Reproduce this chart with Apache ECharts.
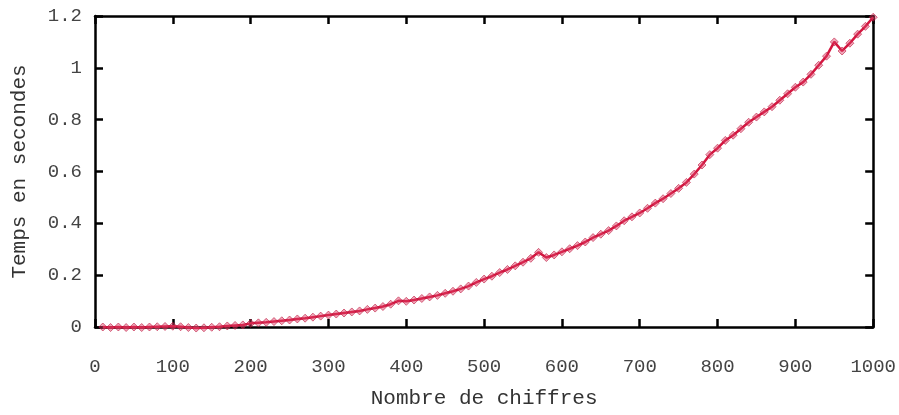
<!DOCTYPE html>
<html>
<head>
<meta charset="utf-8">
<script src="https://cdn.jsdelivr.net/npm/echarts@6/dist/echarts.min.js"></script>
<style>
html,body{margin:0;padding:0;background:#fff;}
#chart{width:899px;height:415px;}
</style>
</head>
<body>
<div id="chart"></div>
<script>
// Number of digits (x)
const digits = [10,20,30,40,50,60,70,80,90,100,110,120,130,140,150,160,170,180,190,200,
  210,220,230,240,250,260,270,280,290,300,310,320,330,340,350,360,370,380,390,400,
  410,420,430,440,450,460,470,480,490,500,510,520,530,540,550,560,570,580,590,600,
  610,620,630,640,650,660,670,680,690,700,710,720,730,740,750,760,770,780,790,800,
  810,820,830,840,850,860,870,880,890,900,910,920,930,940,950,960,970,980,990,1000];
// Time in seconds (y)
const seconds = [0.000,-0.002,0.000,-0.002,0.000,-0.002,0.000,0.001,0.002,0.003,
  0.001,-0.002,-0.004,-0.003,-0.001,0.001,0.004,0.006,0.008,0.014,
  0.016,0.018,0.021,0.024,0.027,0.031,0.034,0.038,0.042,0.046,
  0.050,0.054,0.058,0.062,0.068,0.073,0.079,0.088,0.101,0.099,
  0.104,0.110,0.116,0.122,0.130,0.138,0.147,0.158,0.172,0.185,
  0.196,0.210,0.222,0.236,0.250,0.265,0.288,0.268,0.278,0.290,
  0.302,0.314,0.328,0.345,0.358,0.372,0.390,0.410,0.425,0.440,
  0.458,0.478,0.495,0.515,0.535,0.558,0.590,0.625,0.665,0.690,
  0.720,0.740,0.765,0.790,0.810,0.830,0.850,0.875,0.900,0.925,
  0.945,0.975,1.010,1.045,1.100,1.065,1.095,1.130,1.160,1.195];
const xTicks = [0,100,200,300,400,500,600,700,800,900,1000];
const yTicks = [0,0.2,0.4,0.6,0.8,1,1.2];

const points = digits.map((d,i)=>[d, seconds[i]]);
const font = '"Liberation Mono","DejaVu Sans Mono",monospace';
const axisLine = {show:true, onZero:false, lineStyle:{color:'#000', width:2.5}};
const tickStyle = {show:true, inside:true, length:8, lineStyle:{color:'#000', width:2.5}};

const chart = echarts.init(document.getElementById('chart'));
chart.setOption({
  animation:false,
  backgroundColor:'#fff',
  grid:{left:95, right:24, top:16, bottom:88},
  xAxis:[{
    type:'value', min:xTicks[0], max:xTicks[xTicks.length-1], interval:100,
    position:'bottom',
    name:'Nombre de chiffres', nameLocation:'middle', nameGap:61,
    nameTextStyle:{fontFamily:font, fontSize:21, color:'#333'},
    axisLine:axisLine, axisTick:tickStyle,
    axisLabel:{fontFamily:font, fontSize:19, color:'#444', margin:30,
      formatter:v=>String(v)},
    splitLine:{show:false}
  },{
    type:'value', min:xTicks[0], max:xTicks[xTicks.length-1], interval:100,
    position:'top',
    axisLine:axisLine, axisTick:tickStyle, axisLabel:{show:false}, splitLine:{show:false}
  }],
  yAxis:[{
    type:'value', min:yTicks[0], max:yTicks[yTicks.length-1], interval:0.2,
    position:'left',
    name:'Temps en secondes', nameLocation:'middle', nameGap:65, nameRotate:90,
    nameTextStyle:{fontFamily:font, fontSize:21, color:'#333'},
    axisLine:axisLine, axisTick:tickStyle,
    axisLabel:{fontFamily:font, fontSize:19, color:'#444', margin:13},
    splitLine:{show:false}
  },{
    type:'value', min:yTicks[0], max:yTicks[yTicks.length-1], interval:0.2,
    position:'right',
    axisLine:axisLine, axisTick:tickStyle, axisLabel:{show:false}, splitLine:{show:false}
  }],
  series:[{
    type:'line',
    data:points,
    clip:false,
    symbol:'diamond',
    symbolSize:8,
    showAllSymbol:true,
    lineStyle:{color:'#d4163f', width:2.5},
    itemStyle:{color:'rgba(220,60,100,0.45)', borderColor:'rgba(190,20,60,0.6)', borderWidth:1}
  }]
});
</script>
</body>
</html>
